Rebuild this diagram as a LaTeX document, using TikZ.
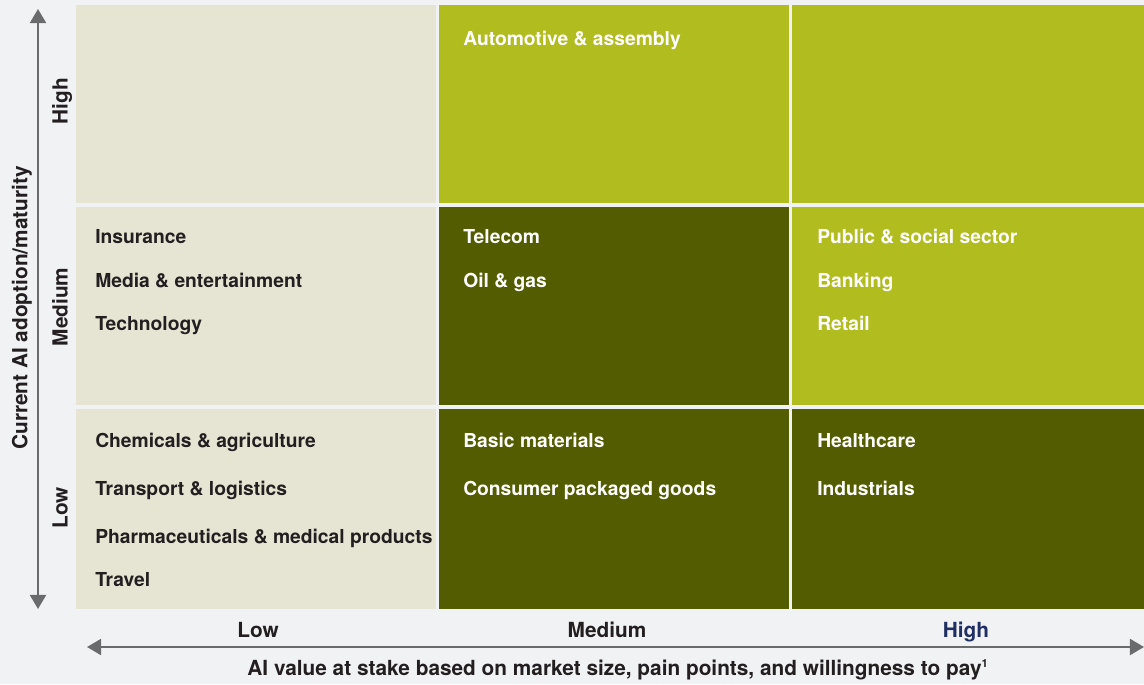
\documentclass[tikz,border=0pt]{standalone}
\usepackage{fontspec}
\setmainfont{TeX Gyre Heros}
\usepackage{tikz}
\usetikzlibrary{positioning, arrows.meta}

\definecolor{BgGray}{HTML}{F1F2F4}
\definecolor{Beige}{HTML}{E6E5D3}
\definecolor{Lime}{HTML}{B1BC1F}
\definecolor{Olive}{HTML}{545C00}
\definecolor{AxisGray}{HTML}{6A6B6D}
\definecolor{InkDark}{HTML}{231F20}
\definecolor{HighBlue}{HTML}{1F2F63}

\newcommand{\lblfont}{\fontsize{13.7}{16}\selectfont\bfseries}
\newcommand{\axfont}{\fontsize{14.8}{17}\selectfont\bfseries}

\begin{document}
\begin{tikzpicture}[
      x=0.025cm, y=-0.025cm,
      cell/.style={anchor=north west, inner sep=0pt, minimum height=4.95cm},
      item/.style={anchor=base west, inner sep=0pt, font=\lblfont, text=InkDark},
      witem/.style={item, text=white},
      tick/.style={anchor=base, inner sep=0pt, font=\axfont, text=InkDark},
      axis/.style={draw=AxisGray, line width=1.4pt,
        {Triangle[length=10pt,width=11.4pt]}-{Triangle[length=10pt,width=11.4pt]}}
    ]
    \fill[BgGray] (0,0) rectangle (1144,684);
    \useasboundingbox (0,0) rectangle (1144,684);

    \node[cell, fill=Beige, minimum width=9cm] (lh) at (76,5) {};
    \node[cell, fill=Lime, minimum width=8.75cm] (mh) at (439,5) {};
    \node[cell, fill=Lime, minimum width=8.8cm] (hh) at (792,5) {};
    \node[cell, fill=Beige, minimum width=9cm] (lm) at (76,207) {};
    \node[cell, fill=Olive, minimum width=8.75cm] (mm) at (439,207) {};
    \node[cell, fill=Lime, minimum width=8.8cm] (hm) at (792,207) {};
    \node[cell, fill=Beige, minimum width=9cm, minimum height=5cm] (ll) at (76,409) {};
    \node[cell, fill=Olive, minimum width=8.75cm, minimum height=5cm] (ml) at (439,409) {};
    \node[cell, fill=Olive, minimum width=8.8cm, minimum height=5cm] (hl) at (792,409) {};

    \node[witem] (auto) at (463,45) {Automotive \& assembly};

    \node[item] (ins) at (95,243) {Insurance};
    \node[item] (media) at (95,287) {Media \& entertainment};
    \node[item] (tech) at (95,330) {Technology};
    \node[witem] (tele) at (463,243) {Telecom};
    \node[witem] (oil) at (463,287) {Oil \& gas};
    \node[witem] (pub) at (817,243) {Public \& social sector};
    \node[witem] (bank) at (817,287) {Banking};
    \node[witem] (ret) at (817,330) {Retail};

    \node[item] (chem) at (95,447) {Chemicals \& agriculture};
    \node[item] (trans) at (95,495) {Transport \& logistics};
    \node[item] (pharma) at (95,543) {Pharmaceuticals \& medical products};
    \node[item] (trav) at (95,586) {Travel};
    \node[witem] (basic) at (463,447) {Basic materials};
    \node[witem] (cpg) at (463,495) {Consumer packaged goods};
    \node[witem] (health) at (817,447) {Healthcare};
    \node[witem] (indus) at (817,495) {Industrials};

    % axes
    \coordinate (ytop) at (38,9);
    \coordinate (ybot) at (38,609);
    \draw[axis] (ybot) -- (ytop);
    \coordinate (xleft) at (87,647);
    \coordinate (xright) at (1144,647);
    \draw[axis] (xleft) -- (xright);

    \node[tick, rotate=90] (yhigh) at (67.5,101) {High};
    \node[tick, rotate=90] (ymed) at (67.5,307) {Medium};
    \node[tick, rotate=90] (ylow) at (67.5,508) {Low};
    \node[tick, rotate=90] (ytitle) at (27.5,308) {Current AI adoption/maturity};

    \node[tick] (xlow) at (258,637) {Low};
    \node[tick] (xmed) at (607,637) {Medium};
    \node[tick, text=HighBlue] (xhigh) at (966,637) {High};
    \node[tick] (xtitle) at (618,675) {AI value at stake based on market size, pain points, and willingness to pay\textsuperscript{\footnotesize 1}};
  \end{tikzpicture}
\end{document}
